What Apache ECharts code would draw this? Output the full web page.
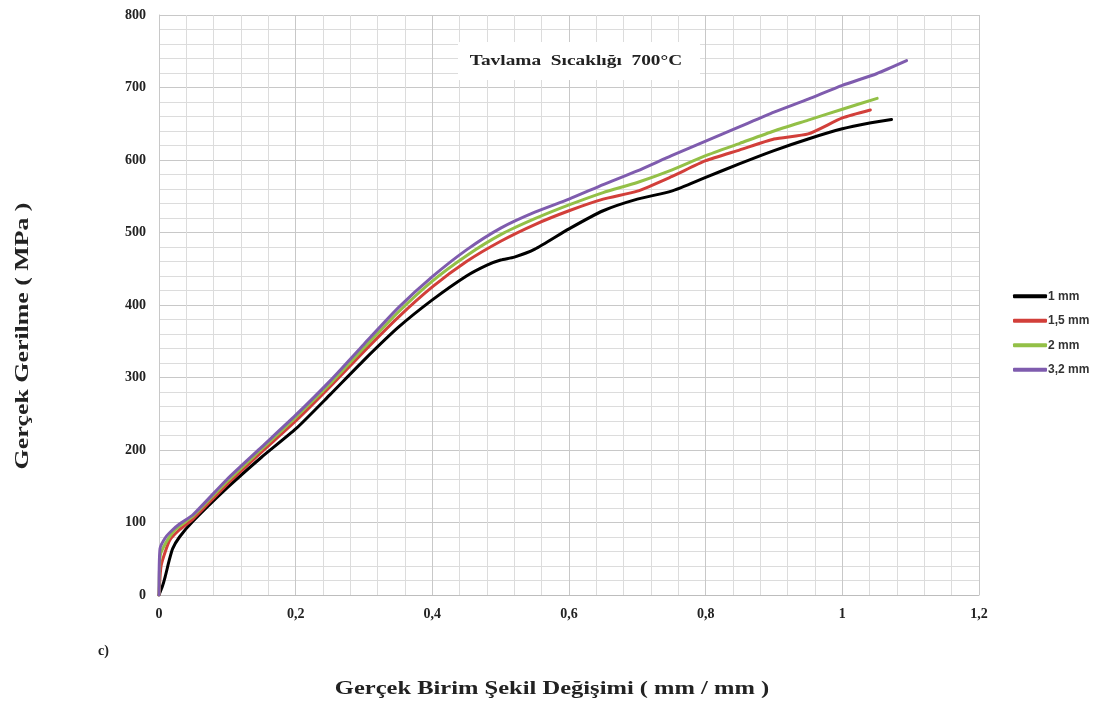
<!DOCTYPE html>
<html>
<head>
<meta charset="utf-8">
<script src="https://cdn.jsdelivr.net/npm/echarts@6/dist/echarts.min.js"></script>
<style>
html,body{margin:0;padding:0;background:#fff;}
#chart{width:1099px;height:706px;}
</style>
</head>
<body>
<div id="chart"></div>
<script>
const seriesNames = ['1 mm', '1,5 mm', '2 mm', '3,2 mm'];
const xTicks = [0, 0.2, 0.4, 0.6, 0.8, 1, 1.2];
const yTicks = [0, 100, 200, 300, 400, 500, 600, 700, 800];

const mm1 = [[0,0],[0.005,12],[0.009,25],[0.015,48],[0.02,64],[0.03,80],[0.05,102],[0.1,148],[0.15,190],[0.2,229],[0.25,276],[0.3,324],[0.35,369],[0.4,407],[0.45,440],[0.48,455],[0.5,462],[0.52,466],[0.55,477],[0.6,505],[0.65,530],[0.7,546],[0.75,557],[0.8,576],[0.85,595],[0.9,613],[0.95,629],[1.0,643],[1.04,651],[1.072,656]];
const mm15 = [[0,0],[0.003,40],[0.01,62],[0.016,76],[0.03,90],[0.05,105],[0.1,153],[0.15,197],[0.2,240],[0.25,287],[0.3,336],[0.35,383],[0.4,425],[0.45,460],[0.5,488],[0.55,511],[0.6,530],[0.65,546],[0.7,557],[0.75,577],[0.8,599],[0.85,614],[0.9,629],[0.95,636],[1.0,658],[1.041,669]];
const mm2 = [[0,0],[0.002,55],[0.01,72],[0.02,86],[0.03,95],[0.05,109],[0.1,157],[0.15,201],[0.2,245],[0.25,291],[0.3,341],[0.35,390],[0.4,433],[0.45,468],[0.5,497],[0.55,519],[0.6,538],[0.65,555],[0.7,569],[0.75,586],[0.8,606],[0.85,623],[0.9,640],[0.95,655],[1.0,670],[1.051,685]];
const mm32 = [[0,0],[0.0015,64],[0.01,80],[0.02,90],[0.03,98],[0.05,111],[0.1,160],[0.15,204],[0.2,248],[0.25,295],[0.3,346],[0.35,396],[0.4,439],[0.45,476],[0.5,506],[0.55,528],[0.6,546],[0.65,566],[0.7,585],[0.75,606],[0.8,626],[0.85,646],[0.9,666],[0.95,684],[1.0,703],[1.05,719],[1.094,737]];

const colors = ['#000000', '#d23f3a', '#93c047', '#7f5cae'];
const serif = '"Liberation Serif", "DejaVu Serif", serif';

const chart = echarts.init(document.getElementById('chart'), null, {renderer: 'canvas'});
const fmt = v => String(Math.round(v * 10) / 10).replace('.', ',');

const lineSeries = (name, data, z) => ({
  name, type: 'line', data, showSymbol: false, smooth: 0.2,
  lineStyle: {width: 3, cap: 'round', join: 'round'}, z
});

chart.setOption({
  animation: false,
  backgroundColor: '#ffffff',
  color: colors,
  grid: {left: 159, right: 120, top: 15, bottom: 111, containLabel: false},
  legend: {
    data: seriesNames,
    orient: 'vertical',
    left: 1008,
    top: 284,
    itemWidth: 34,
    itemHeight: 4,
    itemGap: 10,
    icon: 'roundRect',
    textStyle: {fontFamily: '"Liberation Sans", Arial, sans-serif', fontWeight: 'bold', fontSize: 12, lineHeight: 14.5, color: '#333', padding: [0,0,0,-4]}
  },
  xAxis: {
    type: 'value', min: 0, max: 1.2, interval: 0.2,
    axisLine: {show: true, lineStyle: {color: '#bdbdbd', width: 1}},
    axisTick: {show: false},
    axisLabel: {formatter: fmt, fontFamily: serif, fontWeight: 'bold', fontSize: 14, color: '#222', margin: 12},
    splitLine: {show: true, lineStyle: {color: '#c8c8c8', width: 1}},
    minorTick: {show: false, splitNumber: 5},
    minorSplitLine: {show: true, lineStyle: {color: '#dcdcdc', width: 1}}
  },
  yAxis: {
    type: 'value', min: 0, max: 800, interval: 100,
    axisLine: {show: true, lineStyle: {color: '#c8c8c8', width: 1}},
    axisTick: {show: false},
    axisLabel: {fontFamily: serif, fontWeight: 'bold', fontSize: 14, color: '#222', margin: 13},
    splitLine: {show: true, lineStyle: {color: '#c8c8c8', width: 1}},
    minorTick: {show: false, splitNumber: 5},
    minorSplitLine: {show: true, lineStyle: {color: '#dcdcdc', width: 1}}
  },
  series: [
    lineSeries(seriesNames[0], mm1, 2),
    lineSeries(seriesNames[1], mm15, 3),
    lineSeries(seriesNames[2], mm2, 4),
    lineSeries(seriesNames[3], mm32, 5)
  ],
  graphic: [
    {type: 'rect', left: 458, top: 42, shape: {width: 242, height: 38}, style: {fill: '#ffffff'}, z: 10},
    {type: 'text', x: 576, y: 61, scaleX: 1.29, style: {text: 'Tavlama  Sıcaklığı  700°C', font: 'bold 15px ' + serif, fill: '#222', align: 'center', verticalAlign: 'middle'}, z: 11},
    {type: 'text', x: 23, y: 336, rotation: Math.PI / 2, scaleX: 1.36, style: {text: 'Gerçek Gerilme ( MPa )', font: 'bold 19px ' + serif, fill: '#222', align: 'center', verticalAlign: 'middle'}, z: 11},
    {type: 'text', x: 552, y: 689, scaleX: 1.29, style: {text: 'Gerçek Birim Şekil Değişimi ( mm / mm )', font: 'bold 19px ' + serif, fill: '#222', align: 'center', verticalAlign: 'middle'}, z: 11},
    {type: 'text', x: 98, y: 651, style: {text: 'c)', font: 'bold 14px ' + serif, fill: '#222', verticalAlign: 'middle'}, z: 11}
  ]
});
</script>
</body>
</html>
